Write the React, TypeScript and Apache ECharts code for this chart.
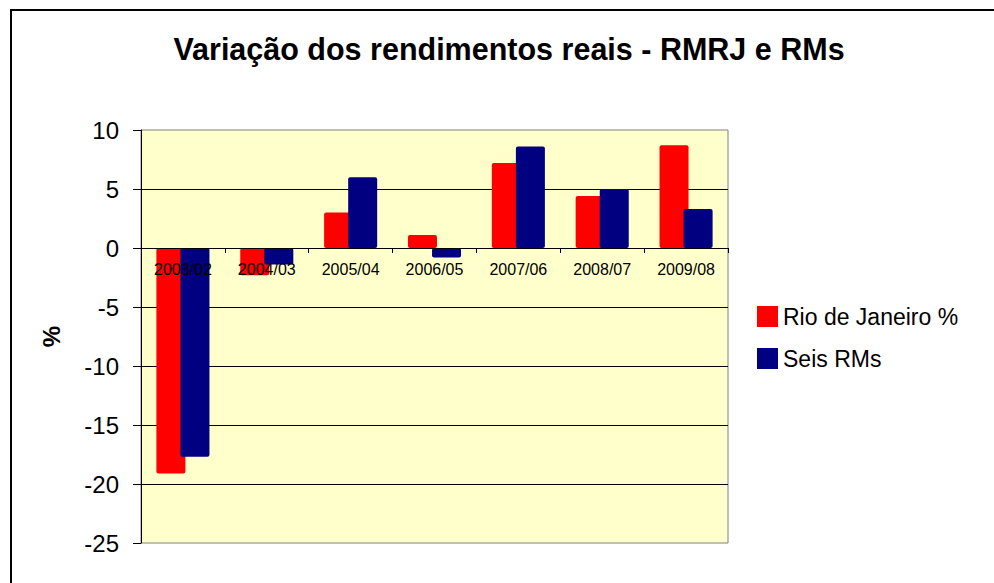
import React, { useEffect, useRef } from "react";
import * as echarts from "echarts";

const categories = ["2003/02", "2004/03", "2005/04", "2006/05", "2007/06", "2008/07", "2009/08"];
const rioValues = [-19.1, -2.3, 3.0, 1.1, 7.2, 4.4, 8.7];
const seisValues = [-17.7, -1.4, 6.0, -0.8, 8.6, 5.0, 3.3];
const seriesNames = ["Rio de Janeiro %", "Seis RMs"];
const titleText = "Variação dos rendimentos reais - RMRJ e RMs";
const yName = "%";

const FONT = "'Liberation Sans', Arial, sans-serif";

export default function App() {
  const ref = useRef<HTMLDivElement>(null);
  useEffect(() => {
    document.body.style.margin = "0";
    if (!ref.current) return;
    const chart = echarts.init(ref.current, undefined, { renderer: "svg" });
    chart.setOption({
      animation: false,
      backgroundColor: "#FFFFFF",
      textStyle: { fontFamily: FONT },
      title: {
        text: titleText,
        left: 504,
        top: 28,
        textAlign: "center",
        textStyle: { fontFamily: FONT, fontSize: 30.5, fontWeight: "bold", color: "#000" },
      },
      graphic: [
        {
          type: "rect",
          shape: { x: 11, y: 10, width: 1000, height: 620 },
          style: { fill: "none", stroke: "#000", lineWidth: 2 },
          silent: true,
          z: 100,
        },
      ],
      legend: {
        orient: "vertical",
        left: 757,
        top: 305,
        padding: 0,
        itemWidth: 21,
        itemHeight: 21,
        itemGap: 19,
        icon: "rect",
        textStyle: { fontFamily: FONT, fontSize: 23, color: "#000" },
        data: seriesNames,
      },
      grid: {
        left: 141,
        top: 130,
        width: 587,
        height: 413,
        show: true,
        backgroundColor: "#FFFFCC",
        borderColor: "#808080",
        borderWidth: 1,
      },
      xAxis: {
        type: "category",
        data: categories,
        position: "bottom",
        offset: -295,
        z: 5,
        axisLine: { onZero: false, lineStyle: { color: "#000", width: 1 } },
        axisTick: { show: true, length: 5, lineStyle: { color: "#000" } },
        axisLabel: { fontFamily: FONT, fontSize: 16, color: "#000", margin: 13, interval: 0 },
      },
      yAxis: {
        type: "value",
        min: -25,
        max: 10,
        interval: 5,
        name: yName,
        nameLocation: "middle",
        nameGap: 78,
        nameTextStyle: { fontFamily: FONT, fontSize: 24, fontWeight: "bold", color: "#000" },
        axisLine: { show: true, lineStyle: { color: "#000", width: 1 } },
        axisTick: { show: true, length: 8, lineStyle: { color: "#000" } },
        axisLabel: { fontFamily: FONT, fontSize: 24, color: "#000", margin: 22 },
        splitLine: {
          show: true,
          showMinLine: false,
          showMaxLine: false,
          lineStyle: { color: "#000", width: 1 },
        },
      },
      series: [
        {
          name: seriesNames[0],
          type: "bar",
          data: rioValues,
          barWidth: 29,
          barGap: "-17%",
          itemStyle: { color: "#FF0000", borderRadius: 2 },
        },
        {
          name: seriesNames[1],
          type: "bar",
          data: seisValues,
          barWidth: 29,
          barGap: "-17%",
          itemStyle: { color: "#000080", borderRadius: 2 },
        },
      ],
    });
    return () => chart.dispose();
  }, []);
  return <div ref={ref} style={{ width: 994, height: 583 }} />;
}
